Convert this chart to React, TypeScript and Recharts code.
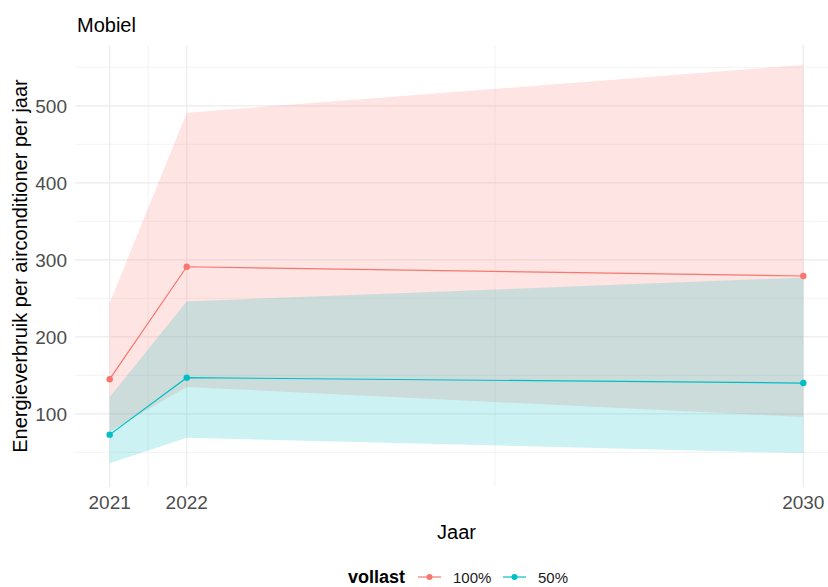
import React from 'react';
import { ComposedChart, Area, Line, XAxis, YAxis, CartesianGrid } from 'recharts';

// jaren en waarden
const years = [2021, 2022, 2030];
const mean100 = [145, 291, 279];
const low100 = [77, 135, 96];
const high100 = [244, 491, 553];
const mean50 = [73, 147, 140];
const low50 = [36, 69, 49];
const high50 = [122, 246, 277];

const yTicks = [100, 200, 300, 400, 500];
const yMinor = [50, 150, 250, 350, 450, 550];
const xMinor = [2021.5, 2026];

const seriesNames = ['100%', '50%'];
const seriesColors = ['#F8766D', '#00BFC4'];

const data = years.map((year, i) => ({
    year,
    band100: [low100[i], high100[i]],
    band50: [low50[i], high50[i]],
    v100: mean100[i],
    v50: mean50[i],
}));

const FONT = '"Liberation Sans", Arial, sans-serif';

const YTitle = (props: any) => {
    const { viewBox } = props;
    const cx = viewBox.x + 20;
    const cy = viewBox.y + viewBox.height / 2;
    return (
        <text x={cx} y={cy} transform={`rotate(-90 ${cx} ${cy})`} textAnchor="middle"
            dominantBaseline="central" fontSize={20} fill="#000" fontFamily={FONT}>
            Energieverbruik per airconditioner per jaar
        </text>
    );
};

const XTitle = (props: any) => {
    const { viewBox } = props;
    return (
        <text x={viewBox.x + viewBox.width / 2} y={viewBox.y + 52} textAnchor="middle"
            fontSize={20} fill="#000" fontFamily={FONT}>
            Jaar
        </text>
    );
};

export default function App() {
    return (
        <div style={{ position: 'absolute', left: 0, top: 0, width: 828, height: 587, overflow: 'hidden', background: '#fff', fontFamily: FONT }}>
            <ComposedChart width={838} height={587} data={data} margin={{ top: 45, right: 0, bottom: 0, left: 0 }}>
                <CartesianGrid stroke="#F0F0F0" strokeWidth={0.8} horizontalValues={yMinor} verticalValues={xMinor} />
                <CartesianGrid stroke="#EBEBEB" strokeWidth={1.1} horizontalValues={yTicks} verticalValues={years} />
                <XAxis type="number" dataKey="year" domain={[2020.55, 2030.45]} ticks={years} allowDataOverflow
                    axisLine={false} tickLine={false} tickSize={0} tickMargin={9} height={100}
                    tick={{ fill: '#4D4D4D', fontSize: 19, fontFamily: FONT }} label={<XTitle />} />
                <YAxis type="number" domain={[5, 579]} ticks={yTicks} allowDataOverflow width={75}
                    axisLine={false} tickLine={false} tickSize={0} tickMargin={8}
                    tick={{ fill: '#4D4D4D', fontSize: 19, fontFamily: FONT }} label={<YTitle />} />
                <Area type="linear" dataKey="band100" stroke="none" fill={seriesColors[0]} fillOpacity={0.2} isAnimationActive={false} />
                <Area type="linear" dataKey="band50" stroke="none" fill={seriesColors[1]} fillOpacity={0.2} isAnimationActive={false} />
                <Line type="linear" dataKey="v100" stroke={seriesColors[0]} strokeWidth={1.2}
                    dot={{ r: 3.2, fill: seriesColors[0], stroke: 'none' }} isAnimationActive={false} />
                <Line type="linear" dataKey="v50" stroke={seriesColors[1]} strokeWidth={1.2}
                    dot={{ r: 3.2, fill: seriesColors[1], stroke: 'none' }} isAnimationActive={false} />
            </ComposedChart>
            <svg width={828} height={587} style={{ position: 'absolute', left: 0, top: 0, pointerEvents: 'none' }}>
                <text x={77} y={32} fontSize={20} fill="#000" fontFamily={FONT}>Mobiel</text>
                <text x={348} y={583} fontSize={18} fontWeight="bold" fill="#000" fontFamily={FONT}>vollast</text>
                {seriesNames.map((name, i) => {
                    const x0 = i === 0 ? 418 : 503;
                    return (
                        <g key={name}>
                            <line x1={x0} x2={x0 + 23} y1={577} y2={577} stroke={seriesColors[i]} strokeWidth={1.2} />
                            <circle cx={x0 + 11.5} cy={577} r={3} fill={seriesColors[i]} />
                            <text x={x0 + 35} y={583} fontSize={15} fill="#1A1A1A" fontFamily={FONT}>{name}</text>
                        </g>
                    );
                })}
            </svg>
        </div>
    );
}
